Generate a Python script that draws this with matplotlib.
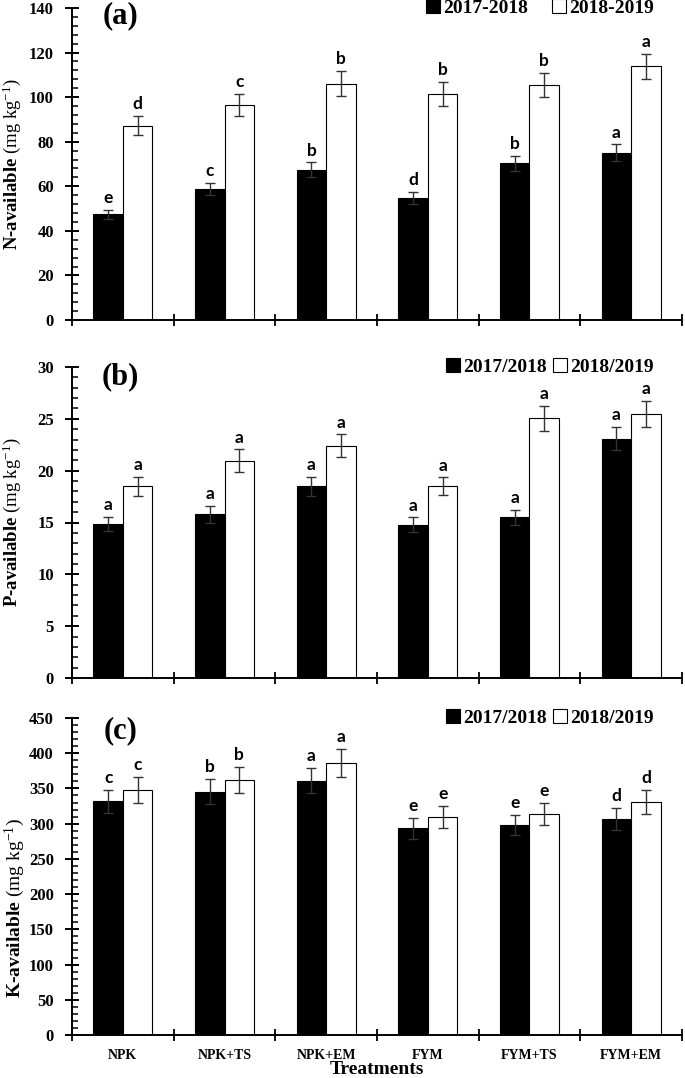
import matplotlib
matplotlib.use("Agg")
import matplotlib.pyplot as plt
import numpy as np
from matplotlib.patches import Patch
from matplotlib.ticker import MultipleLocator, FixedLocator, NullFormatter

plt.rcParams['font.family'] = ['Liberation Serif', 'DejaVu Serif']
plt.rcParams['mathtext.fontset'] = 'custom'
plt.rcParams['mathtext.rm'] = 'Liberation Serif'
plt.rcParams['mathtext.bf'] = 'Liberation Serif:bold'
plt.rcParams['mathtext.it'] = 'Liberation Serif:italic'

treatments = ["NPK", "NPK+TS", "NPK+EM", "FYM", "FYM+TS", "FYM+EM"]

# Panel (a) N-available
n_2017 = [47.5, 58.8, 67.4, 54.8, 70.3, 75.1]
n_2017_err = [2.0, 2.8, 3.3, 2.8, 3.3, 3.7]
n_2018 = [87.2, 96.6, 106.1, 101.6, 105.6, 113.8]
n_2018_err = [4.3, 4.9, 5.6, 5.4, 5.4, 5.6]
n_lab_2017 = ["e", "c", "b", "d", "b", "a"]
n_lab_2018 = ["d", "c", "b", "b", "b", "a"]

# Panel (b) P-available
p_2017 = [14.85, 15.8, 18.5, 14.8, 15.5, 23.1]
p_2017_err = [0.7, 0.8, 0.9, 0.7, 0.75, 1.1]
p_2018 = [18.5, 20.95, 22.4, 18.5, 25.05, 25.45]
p_2018_err = [0.9, 1.1, 1.1, 0.85, 1.2, 1.25]
p_lab_2017 = ["a", "a", "a", "a", "a", "a"]
p_lab_2018 = ["a", "a", "a", "a", "a", "a"]

# Panel (c) K-available
k_2017 = [331.5, 345.5, 361.0, 293.5, 298.5, 306.5]
k_2017_err = [16.5, 18.0, 18.0, 15.0, 14.5, 15.5]
k_2018 = [348.0, 362.0, 386.0, 310.0, 314.0, 331.0]
k_2018_err = [18.0, 18.5, 20.0, 15.5, 15.5, 17.0]
k_lab_2017 = ["c", "b", "a", "e", "e", "d"]
k_lab_2018 = ["c", "b", "a", "e", "e", "d"]

W, H = 685, 1078
fig = plt.figure(figsize=(W / 100, H / 100), dpi=100)

def ax_rect(top_px, bot_px, left_px=72, right_px=682):
    return [left_px / W, 1 - bot_px / H, (right_px - left_px) / W, (bot_px - top_px) / H]

panels = [
    dict(rect=ax_rect(8, 320), ymax=140, major=20, minor=4, y1=n_2017, e1=n_2017_err,
         y2=n_2018, e2=n_2018_err, l1=n_lab_2017, l2=n_lab_2018, tag="(a)",
         ylab="N-available", leg=("2017-2018", "2018-2019"), colsp=1.2, ylfs=13.5,
         ylx=-0.08, yly=0.5, tagy=0.975),
    dict(rect=ax_rect(367, 678), ymax=30, major=5, minor=1, y1=p_2017, e1=p_2017_err,
         y2=p_2018, e2=p_2018_err, l1=p_lab_2017, l2=p_lab_2018, tag="(b)",
         ylab="P-available", leg=("2017/2018", "2018/2019"), colsp=0.3, ylfs=13.5,
         ylx=-0.08, yly=0.5, tagy=0.97),
    dict(rect=ax_rect(718, 1035), ymax=450, major=50, minor=10, y1=k_2017, e1=k_2017_err,
         y2=k_2018, e2=k_2018_err, l1=k_lab_2017, l2=k_lab_2018, tag="(c)",
         ylab="K-available", leg=("2017/2018", "2018/2019"), colsp=0.3, ylfs=14,
         ylx=-0.073, yly=0.4, tagy=0.96),
]

x = np.arange(len(treatments))
bw = 0.29

for i, p in enumerate(panels):
    ax = fig.add_axes(p["rect"])
    ax.bar(x - bw / 2, p["y1"], bw, color="black", edgecolor="black", linewidth=0.8, zorder=2)
    ax.bar(x + bw / 2, p["y2"], bw, color="white", edgecolor="black", linewidth=0.8, zorder=2)
    ax.errorbar(x - bw / 2, p["y1"], yerr=p["e1"], fmt="none", ecolor="#333333",
                elinewidth=1.0, capsize=3.5, capthick=1.0, zorder=3)
    ax.errorbar(x + bw / 2, p["y2"], yerr=p["e2"], fmt="none", ecolor="#333333",
                elinewidth=1.0, capsize=3.5, capthick=1.0, zorder=3)
    off = p["ymax"] * 0.012
    for xi, yv, ev, lb in zip(x - bw / 2, p["y1"], p["e1"], p["l1"]):
        ax.text(xi, yv + ev + off, lb, ha="center", va="bottom", fontsize=12.5,
                fontweight="bold", family=["Lato", "DejaVu Sans"])
    for xi, yv, ev, lb in zip(x + bw / 2, p["y2"], p["e2"], p["l2"]):
        ax.text(xi, yv + ev + off, lb, ha="center", va="bottom", fontsize=12.5,
                fontweight="bold", family=["Lato", "DejaVu Sans"])

    ax.set_xlim(-0.5, len(treatments) - 0.5)
    ax.set_ylim(0, p["ymax"])
    ax.yaxis.set_major_locator(MultipleLocator(p["major"]))
    ax.yaxis.set_minor_locator(MultipleLocator(p["minor"]))
    ax.xaxis.set_major_locator(FixedLocator(np.arange(-0.5, len(treatments), 1.0)))
    ax.xaxis.set_major_formatter(NullFormatter())
    ax.tick_params(axis="y", which="major", direction="inout", length=10, width=1.4,
                   labelsize=12, pad=8)
    ax.tick_params(axis="y", which="minor", direction="in", length=4.5, width=1.1)
    ax.tick_params(axis="x", which="major", direction="inout", length=8, width=1.3)
    for lbl in ax.get_yticklabels():
        lbl.set_fontweight("bold")
    for s in ("top", "right"):
        ax.spines[s].set_visible(False)
    for s in ("left", "bottom"):
        ax.spines[s].set_linewidth(1.4)

    ax.set_ylabel(p["ylab"] + r" $\mathrm{(mg\ kg^{-1})}$", fontsize=p["ylfs"], fontweight="bold")
    ax.yaxis.set_label_coords(p["ylx"], p["yly"])

    ax.text(0.08, p["tagy"], p["tag"], transform=ax.transAxes, ha="center", va="center",
            fontsize=22, fontweight="bold")

    handles = [Patch(facecolor="black", edgecolor="black", linewidth=0.8),
               Patch(facecolor="white", edgecolor="black", linewidth=0.8)]
    ax.legend(handles, list(p["leg"]), loc="center right", bbox_to_anchor=(0.97, 1.0),
              ncol=2, frameon=False, handlelength=0.75, handleheight=0.75,
              handletextpad=0.15, columnspacing=p["colsp"], borderpad=0,
              prop={"family": "Liberation Serif", "weight": "bold", "size": 14})

    if i == 2:
        ax.xaxis.set_minor_locator(FixedLocator(x))
        ax.set_xticks(x, treatments, minor=True)
        ax.tick_params(axis="x", which="minor", length=0, pad=10, labelsize=10)
        for lbl in ax.get_xticklabels(minor=True):
            lbl.set_fontweight("bold")
        ax.set_xlabel("Treatments", fontsize=14, fontweight="bold")
        ax.xaxis.set_label_coords(0.5, -0.083)

fig.savefig("out.png", dpi=100)
